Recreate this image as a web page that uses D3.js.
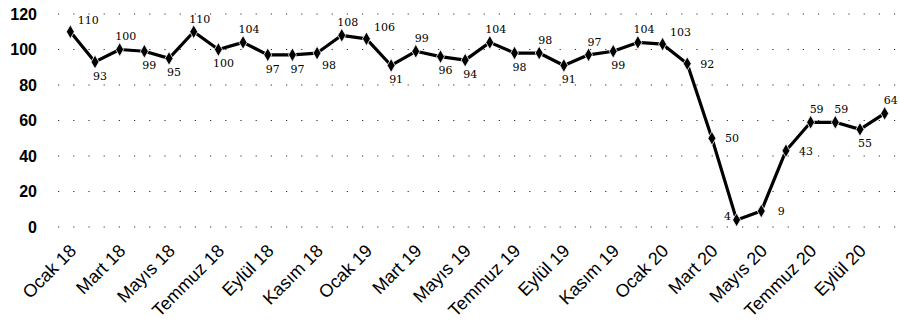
<!DOCTYPE html>
<html>
<head>
<meta charset="utf-8">
<script src="https://cdn.jsdelivr.net/npm/d3@7"></script>
<style>
  body { margin: 0; background: #fff; }
  svg { display: block; }
</style>
</head>
<body>
<div id="chart"></div>
<script>
var width = 900,
    height = 331;

// aylar (Ocak 2018 - Ekim 2020)
var months = ["Ocak 18", "Şubat 18", "Mart 18", "Nisan 18", "Mayıs 18", "Haziran 18",
    "Temmuz 18", "Ağustos 18", "Eylül 18", "Ekim 18", "Kasım 18", "Aralık 18",
    "Ocak 19", "Şubat 19", "Mart 19", "Nisan 19", "Mayıs 19", "Haziran 19",
    "Temmuz 19", "Ağustos 19", "Eylül 19", "Ekim 19", "Kasım 19", "Aralık 19",
    "Ocak 20", "Şubat 20", "Mart 20", "Nisan 20", "Mayıs 20", "Haziran 20",
    "Temmuz 20", "Ağustos 20", "Eylül 20", "Ekim 20"];

var values = [110, 93, 100, 99, 95, 110, 100, 104, 97, 97, 98, 108,
    106, 91, 99, 96, 94, 104, 98, 98, 91, 97, 99, 104,
    103, 92, 50, 4, 9, 43, 59, 59, 55, 64];

// where each value label sits relative to its point
var labelSide = ["tr", "b", "t", "b", "b", "t", "b", "t", "b", "b", "br", "t",
    "tr", "b", "t", "b", "b", "t", "b", "t", "b", "t", "b", "t",
    "tr", "r", "r", "l", "r", "r", "t", "t", "b", "t"];

var yTicks = [0, 20, 40, 60, 80, 100, 120];
var xTickLabels = months.filter(function(d, i){ return i % 2 === 0; });

var svg = d3.select("#chart").append("svg")
    .attr("width", width)
    .attr("height", height);

var x = d3.scaleBand()
    .domain(months)
    .range([58, 897]);

var y = d3.scaleLinear()
    .domain([0, 120])
    .range([227, 14]);

// sparse dotted gridlines
svg.append("g")
    .selectAll("line")
    .data(yTicks)
    .enter().append("line")
    .attr("x1", 58)
    .attr("x2", 900)
    .attr("y1", function(d){ return y(d); })
    .attr("y2", function(d){ return y(d); })
    .attr("stroke", "#333")
    .attr("stroke-width", 1.2)
    .attr("stroke-dasharray", "1.2,14");

// y axis
var yAxis = svg.append("g")
    .attr("transform", "translate(40,0)")
    .call(d3.axisLeft(y).tickValues(yTicks).tickSize(0).tickPadding(3));
yAxis.select(".domain").remove();
yAxis.selectAll("text")
    .attr("font-family", "Liberation Sans, Arial, sans-serif")
    .attr("font-size", 16)
    .attr("font-weight", "bold")
    .attr("fill", "#000");

// x axis, every other month, rotated
var xAxis = svg.append("g")
    .attr("transform", "translate(0,227)")
    .call(d3.axisBottom(x).tickValues(xTickLabels).tickSize(0));
xAxis.select(".domain").remove();
xAxis.selectAll("text")
    .attr("font-family", "Liberation Sans, Arial, sans-serif")
    .attr("font-size", 18)
    .attr("fill", "#000")
    .attr("text-anchor", "end")
    .attr("y", 0)
    .attr("dy", 0)
    .attr("transform", "translate(7,25) rotate(-45)");

function cx(d, i){ return x(months[i]) + x.bandwidth() / 2; }

var line = d3.line()
    .x(function(d, i){ return cx(d, i); })
    .y(function(d){ return y(d); });

svg.append("path")
    .datum(values)
    .attr("fill", "none")
    .attr("stroke", "#000")
    .attr("stroke-width", 3.2)
    .attr("stroke-linejoin", "round")
    .attr("d", line);

svg.append("g")
    .selectAll("path")
    .data(values)
    .enter().append("path")
    .attr("d", d3.symbol().type(d3.symbolDiamond).size(55))
    .attr("transform", function(d, i){ return "translate(" + cx(d, i) + "," + y(d) + ")"; })
    .attr("fill", "#000")
    .attr("stroke", "#fff")
    .attr("stroke-width", 0.8);

var offsets = {
    t: [6, -13], tr: [18, -12], b: [5, 14], br: [12, 12],
    r: [20, 0], l: [-9, -4]
};

svg.append("g")
    .selectAll("text")
    .data(values)
    .enter().append("text")
    .attr("x", function(d, i){ return cx(d, i) + offsets[labelSide[i]][0]; })
    .attr("y", function(d, i){ return y(d) + offsets[labelSide[i]][1]; })
    .attr("dy", "0.35em")
    .attr("text-anchor", "middle")
    .attr("font-family", "DejaVu Serif, serif")
    .attr("font-size", 11)
    .attr("fill", "#000")
    .text(function(d){ return d; });
</script>
</body>
</html>
